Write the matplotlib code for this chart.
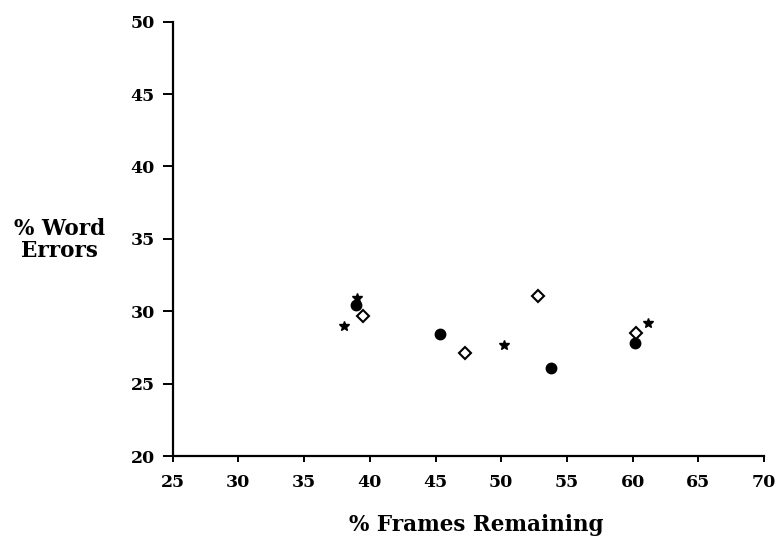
import matplotlib
matplotlib.use('Agg')
import matplotlib.pyplot as plt

# Points
circle_x = [38.95, 45.35, 53.8, 60.15]
circle_y = [30.4, 28.4, 26.1, 27.8]

diamond_x = [39.45, 47.25, 52.8, 60.25]
diamond_y = [29.65, 27.1, 31.05, 28.5]

star_x = [38.0, 39.0, 50.2, 61.2]
star_y = [29.0, 30.9, 27.65, 29.2]

xticks = [25, 30, 35, 40, 45, 50, 55, 60, 65, 70]
yticks = [20, 25, 30, 35, 40, 45, 50]

plt.rcParams['font.family'] = ['DejaVu Serif']
plt.rcParams['font.weight'] = 'bold'

fig = plt.figure(figsize=(7.76, 5.41), dpi=100)
ax = fig.add_axes([0.2226, 0.157, 0.7619, 0.803])

ax.plot(circle_x, circle_y, 'o', color='black', markersize=7.5, linestyle='none')
ax.plot(diamond_x, diamond_y, 'D', markerfacecolor='white', markeredgecolor='black',
        markeredgewidth=1.5, markersize=6.5, linestyle='none')
ax.plot(star_x, star_y, '*', color='black', markersize=7.5, linestyle='none')

ax.set_xlim(25, 70)
ax.set_ylim(20, 50)
ax.set_xticks(xticks)
ax.set_yticks(yticks)
ax.tick_params(axis='both', direction='out', width=1.4, labelsize=12.5)
ax.tick_params(axis='y', length=7, pad=6)
ax.tick_params(axis='x', length=4, pad=9)

ax.spines['top'].set_visible(False)
ax.spines['right'].set_visible(False)
for s in ['left', 'bottom']:
    ax.spines[s].set_linewidth(1.6)

fig.text(0.077, 0.556, '% Word\nErrors', ha='center', va='center',
         fontsize=15.5, fontweight='bold', linespacing=1.0)
fig.text(0.614, 0.03, '% Frames Remaining', ha='center', va='center',
         fontsize=15.5, fontweight='bold')

fig.savefig('out.png', dpi=100)
